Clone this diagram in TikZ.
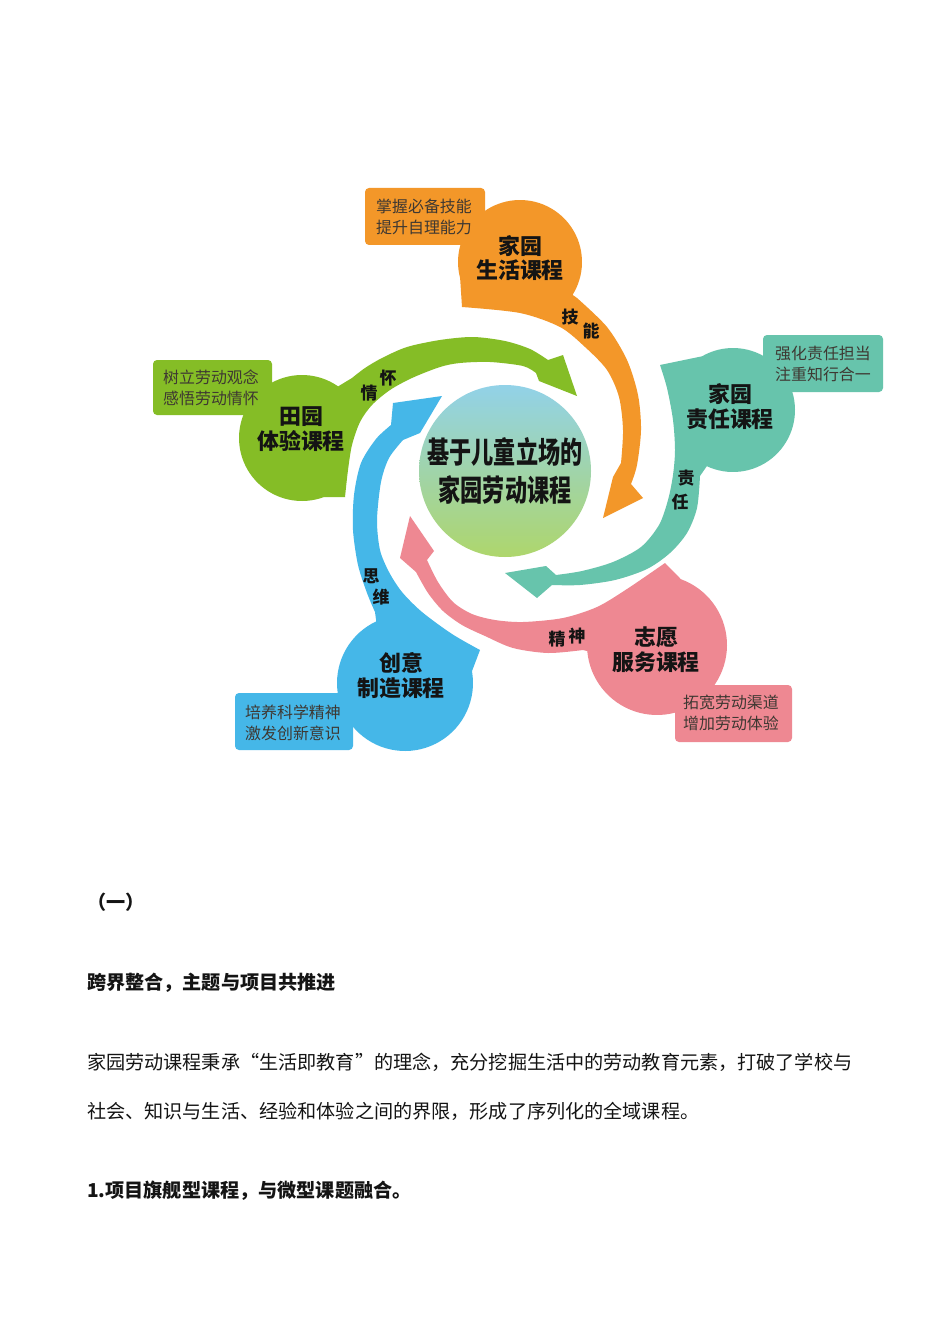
\documentclass[tikz,border=0pt]{standalone}
\usepackage{fontspec}
\newfontfamily\cjk{Noto Sans CJK SC}
\newfontfamily\cjkfw{Noto Sans CJK SC}[RawFeature=+fwid]
\usetikzlibrary{calc}
\definecolor{cOrange}{RGB}{243,151,41}
\definecolor{cGreen}{RGB}{133,189,38}
\definecolor{cTeal}{RGB}{103,196,172}
\definecolor{cPink}{RGB}{238,136,146}
\definecolor{cBlue}{RGB}{69,183,232}
\definecolor{cTop}{RGB}{146,210,232}
\definecolor{cMid}{RGB}{162,212,168}
\definecolor{cBot}{RGB}{174,214,108}
\definecolor{lbltext}{RGB}{62,56,50}
\definecolor{ink}{RGB}{20,20,20}
\tikzset{
  lbl/.style={font=\cjk\fontsize{16}{21}\selectfont, text=lbltext, align=left, inner sep=0pt, anchor=west},
  ttl/.style={font=\cjk\bfseries\fontsize{22}{25}\selectfont, text=ink, align=center, inner sep=0pt},
  arl/.style={font=\cjk\bfseries\fontsize{17}{17}\selectfont, text=ink, inner sep=0pt},
  tagbox/.style={rounded corners=4bp},
  body/.style={font=\cjk\fontsize{19.2}{19.2}\selectfont, text=ink, anchor=west, inner sep=0pt},
  headtxt/.style={font=\cjk\bfseries\fontsize{19.2}{19.2}\selectfont, text=ink, anchor=west, inner sep=0pt},
}
\begin{document}
\begin{tikzpicture}[x=1bp,y=-1bp]
\useasboundingbox (0,0) rectangle (950,1344);
\fill[white] (0,0) rectangle (950,1344);

% ---------- orange petal ----------
\fill[cOrange] (462,307)
  -- plot[domain=165:392,variable=\t,samples=60] ({520+62*cos(\t)},{262+62*sin(\t)})
  -- plot[smooth] coordinates {(577,298)(607,327)(627,360)(638,395)(641,430)(637,465)(631,484)}
  -- (643,498) -- (603,518) -- (613,477)
  -- plot[smooth] coordinates {(621,463)(623,430)(619,397)(607,370)(585,347)(560,327)(520,313)(462,307)}
  -- cycle;
\fill[cOrange,tagbox] (365,188) rectangle (485,245);

% ---------- green petal ----------
\fill[cGreen] (345,497)
  -- plot[domain=70:305,variable=\t,samples=60] ({302+63*cos(\t)},{438+63*sin(\t)})
  -- plot[smooth] coordinates {(352,378)(365,368)(382,358)(407,347)(440,340)(473,337)(505,341)(530,349)(548,360)}
  -- (563,355) -- (577,396) -- (539,381)
  -- plot[smooth] coordinates {(536,373)(523,366)(490,362)(460,363)(440,367)(412,378)(390,390)(372,405)(360,422)(352,445)(348,470)(345,497)}
  -- cycle;
\fill[cGreen,tagbox] (153,360) rectangle (272,415);

% ---------- teal petal ----------
\fill[cTeal] (660,365)
  -- plot[domain=240:475,variable=\t,samples=60] ({733+62*cos(\t)},{410+62*sin(\t)})
  -- plot[smooth] coordinates {(700,476)(697,508)(687,533)(670,553)(647,569)(615,580)(580,585)(552,585)}
  -- (537,598) -- (505,573) -- (546,566)
  -- plot[smooth] coordinates {(556,575)(582,571)(613,562)(641,547)(659,525)(668,500)(673,475)(675,450)(673,420)(667,388)(660,365)}
  -- cycle;
\fill[cTeal,tagbox] (763,335) rectangle (883,392);

% ---------- pink petal ----------
\fill[cPink] (665,563)
  -- plot[domain=290:535,variable=\t,samples=60] ({657+70*cos(\t)},{645+70*sin(\t)})
  -- plot[smooth] coordinates {(583,650)(548,653)(513,648)(485,636)(462,625)(443,611)(428,593)(416,572)}
  -- (400,558) -- (410,516) -- (434,551)
  -- plot[smooth] coordinates {(427,560)(438,582)(453,602)(472,614)(495,620)(523,622)(563,618)(597,607)(627,589)(665,563)}
  -- cycle;
\fill[cPink,tagbox] (675,685) rectangle (792,742);

% ---------- blue petal ----------
\fill[cBlue] (480,650)
  -- plot[domain=-10:245,variable=\t,samples=60] ({405+68*cos(\t)},{683+68*sin(\t)})
  -- plot[smooth] coordinates {(375,612)(367,593)(358,565)(353,530)(354,495)(361,463)(376,439)(391,425)}
  -- (393,403) -- (442,396) -- (420,433)
  -- plot[smooth] coordinates {(403,440)(389,458)(381,482)(377,520)(380,550)(389,572)(402,592)(422,612)(452,634)(480,650)}
  -- cycle;
\fill[cBlue,tagbox] (235,693) rectangle (353,750);

% ---------- centre ----------
\shade[top color=cTop, middle color=cMid, bottom color=cBot] (505,471) circle[radius=86];
\node[font=\cjk\bfseries\fontsize{30}{38}\selectfont, text=ink, xscale=0.74, align=center, inner sep=0pt] (ct) at (505,471) {基于儿童立场的\\家园劳动课程};

% ---------- titles ----------
\node[ttl] (ot) at (520,258) {家园\\生活课程};
\node[ttl] (gt) at (301,429) {田园\\体验课程};
\node[ttl] (tt) at (730,407) {家园\\责任课程};
\node[ttl] (pt) at (656,649.5) {志愿\\服务课程};
\node[ttl] (bt) at (401,676) {创意\\制造课程};

% ---------- tag texts ----------
\node[lbl] (ol) at (376,216.5) {掌握必备技能\\提升自理能力};
\node[lbl] (gl) at (163,387.5) {树立劳动观念\\感悟劳动情怀};
\node[lbl] (tl) at (775,364) {强化责任担当\\注重知行合一};
\node[lbl] (pl) at (683,713) {拓宽劳动渠道\\增加劳动体验};
\node[lbl] (bl) at (245,722.5) {培养科学精神\\激发创新意识};

% ---------- arrow words ----------
\node[arl] (k1) at (570,317) {技};
\node[arl] (k2) at (591,331) {能};
\node[arl] (q1) at (369,393) {情};
\node[arl] (q2) at (388,378) {怀};
\node[arl] (z1) at (686,478) {责};
\node[arl] (z2) at (680,502) {任};
\node[arl] (j1) at (557,639) {精};
\node[arl] (j2) at (577,636) {神};
\node[arl] (s1) at (371,576) {思};
\node[arl] (s2) at (381,597) {维};

% ---------- text below ----------
\node[headtxt] (h0) at (87,902) {（一）};
\node[headtxt] (h1) at (87,983) {跨界整合，主题与项目共推进};
\node[body] (p1) at (87,1062) {家园劳动课程秉承{\cjkfw “}生活即教育{\cjkfw ”}的理念，充分挖掘生活中的劳动教育元素，打破了学校与};
\node[body] (p2) at (87,1111) {社会、知识与生活、经验和体验之间的界限，形成了序列化的全域课程。};
\node[headtxt] (h2) at (87,1191) {1.项目旗舰型课程，与微型课题融合。};
\end{tikzpicture}
\end{document}
